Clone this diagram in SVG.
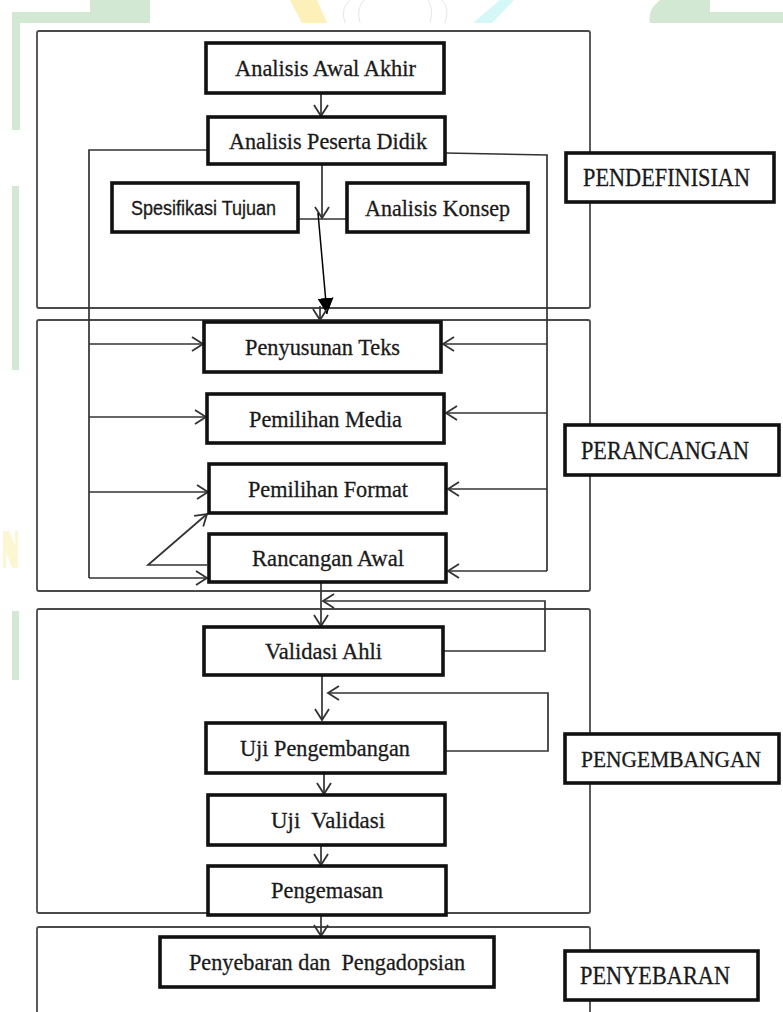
<svg xmlns="http://www.w3.org/2000/svg" width="783" height="1012" viewBox="0 0 783 1012">
<style>
.frame{fill:none;stroke:#4a4a4a;stroke-width:1.8}
.node rect{fill:#fff;stroke:#111;stroke-width:3.6}
.node text{font-family:"Liberation Serif","Times New Roman",serif;font-size:24px;fill:#1a1a1a;stroke:#1a1a1a;stroke-width:0.3;text-anchor:middle}
.node text.lab{font-size:25px}
.node text.sans{font-family:"Liberation Sans",Arial,sans-serif;font-size:19.5px}
.conn{fill:none;stroke:#333;stroke-width:1.7}
.arr{marker-end:url(#open)}
.wm{fill:#d2e8d2}
</style>
<defs>
<marker id="open" markerUnits="userSpaceOnUse" markerWidth="14" markerHeight="16" viewBox="0 0 14 16" refX="12" refY="8" orient="auto">
<path d="M1,1 L12,8 L1,15" fill="none" stroke="#333" stroke-width="1.8"/>
</marker>
<marker id="solid" markerUnits="userSpaceOnUse" markerWidth="18" markerHeight="16" viewBox="0 0 18 16" refX="16" refY="8" orient="auto">
<path d="M0,0 L16,8 L0,16 z" fill="#000"/>
</marker>
</defs>
<rect x="0" y="0" width="783" height="1012" fill="#fff"/>
<g id="watermark">
<path class="wm" d="M12,12 H90 V0 H150 V23 H20 V130 H12 Z"/>
<path class="wm" d="M660,0 Q647,10 650,23 H783 V12 H710 V0 Z"/>
<path d="M290,0 H317 L327,23 H302 Z" fill="#fdf0b8"/>
<path d="M500,0 H514 L492,23 H473 Z" fill="#d4f7f7"/>
<path d="M345,23 Q340,8 350,0 M360,23 Q356,8 364,0 M430,23 Q434,8 428,0 M445,23 Q450,8 442,0" fill="none" stroke="#e6e6e6" stroke-width="1"/>
<rect class="wm" x="12" y="186" width="7" height="184"/>
<path d="M3,531 H9 L15,545 V531 H18 V568 H12 L6,552 V568 H3 Z" fill="#fbf7d2"/>
<rect class="wm" x="12" y="611" width="7" height="69"/>
</g>
<g id="frames">
<rect class="frame" x="37" y="31" width="553" height="277" rx="2"/>
<rect class="frame" x="37" y="320" width="553" height="271" rx="2"/>
<rect class="frame" x="37" y="609" width="553" height="304" rx="2"/>
<rect class="frame" x="37" y="927" width="553" height="100" rx="2"/>
</g>
<g id="connectors">
<path class="conn arr" d="M321,93 V116"/>
<path class="conn arr" d="M322,164 V218"/>
<path class="conn" d="M298,219 H347"/>
<path d="M318,213 L327,314" fill="none" stroke="#000" stroke-width="1.5" marker-end="url(#solid)"/>
<path class="conn arr" d="M320,306 V320"/>
<path class="conn" d="M208,150 H89 V578"/>
<path class="conn arr" d="M89,344 H203"/>
<path class="conn arr" d="M89,417 H206"/>
<path class="conn arr" d="M89,492 H208"/>
<path class="conn arr" d="M89,578 H207"/>
<path class="conn" d="M445,153 L547,155 V571"/>
<path class="conn arr" d="M547,344 H443"/>
<path class="conn arr" d="M547,413 H446"/>
<path class="conn arr" d="M547,489 H448"/>
<path class="conn arr" d="M547,571 H448"/>
<path class="conn arr" d="M207,565 H148 L207,514"/>
<path class="conn arr" d="M321,583 V626"/>
<path class="conn arr" d="M443,651 H545 V601 H323"/>
<path class="conn arr" d="M322,675 V720"/>
<path class="conn arr" d="M445,751 H548 V693 H328"/>
<path class="conn arr" d="M324,773 V794"/>
<path class="conn arr" d="M321,845 V865"/>
<path class="conn arr" d="M321,915 V936"/>
</g>
<g id="n-analisis-awal-akhir" class="node"><rect x="206" y="43" width="238" height="50"/><text x="325.5" y="76" textLength="181" lengthAdjust="spacingAndGlyphs">Analisis Awal Akhir</text></g>
<g id="n-analisis-peserta-didik" class="node"><rect x="208" y="117" width="237" height="47"/><text x="328" y="148.5" textLength="198" lengthAdjust="spacingAndGlyphs">Analisis Peserta Didik</text></g>
<g id="n-spesifikasi-tujuan" class="node"><rect x="112" y="183" width="186" height="49"/><text class="sans" x="203.5" y="214.5" textLength="145" lengthAdjust="spacingAndGlyphs">Spesifikasi Tujuan</text></g>
<g id="n-analisis-konsep" class="node"><rect x="347" y="183" width="181" height="49"/><text x="437.5" y="216" textLength="145" lengthAdjust="spacingAndGlyphs">Analisis Konsep</text></g>
<g id="n-penyusunan-teks" class="node"><rect x="204" y="322" width="237" height="50"/><text x="322.5" y="355" textLength="155" lengthAdjust="spacingAndGlyphs">Penyusunan Teks</text></g>
<g id="n-pemilihan-media" class="node"><rect x="207" y="394" width="237" height="49"/><text x="325.5" y="426.5" textLength="153" lengthAdjust="spacingAndGlyphs">Pemilihan Media</text></g>
<g id="n-pemilihan-format" class="node"><rect x="209" y="464" width="237" height="49"/><text x="328" y="496.5" textLength="160" lengthAdjust="spacingAndGlyphs">Pemilihan Format</text></g>
<g id="n-rancangan-awal" class="node"><rect x="209" y="534" width="237" height="48"/><text x="328" y="566" textLength="152" lengthAdjust="spacingAndGlyphs">Rancangan Awal</text></g>
<g id="n-validasi-ahli" class="node"><rect x="204" y="627" width="239" height="48"/><text x="323.5" y="659" textLength="117" lengthAdjust="spacingAndGlyphs">Validasi Ahli</text></g>
<g id="n-uji-pengembangan" class="node"><rect x="206" y="723" width="239" height="50"/><text x="325" y="756" textLength="170" lengthAdjust="spacingAndGlyphs">Uji Pengembangan</text></g>
<g id="n-uji-validasi" class="node"><rect x="208" y="795" width="237" height="50"/><text x="328" y="828" textLength="114" lengthAdjust="spacingAndGlyphs" xml:space="preserve">Uji  Validasi</text></g>
<g id="n-pengemasan" class="node"><rect x="208" y="866" width="238" height="49"/><text x="327" y="898" textLength="112" lengthAdjust="spacingAndGlyphs">Pengemasan</text></g>
<g id="n-penyebaran" class="node"><rect x="160" y="937" width="334" height="50"/><text x="327" y="970" textLength="276" lengthAdjust="spacingAndGlyphs" xml:space="preserve">Penyebaran dan  Pengadopsian</text></g>
<g id="l-pendefinisian" class="node"><rect x="566" y="153" width="208" height="49"/><text class="lab" x="666.5" y="186" textLength="167" lengthAdjust="spacingAndGlyphs">PENDEFINISIAN</text></g>
<g id="l-perancangan" class="node"><rect x="565" y="425" width="214" height="50"/><text class="lab" x="665" y="458.5" textLength="168" lengthAdjust="spacingAndGlyphs">PERANCANGAN</text></g>
<g id="l-pengembangan" class="node"><rect x="565" y="734" width="214" height="49"/><text x="671" y="767" style="font-size:23px" textLength="180" lengthAdjust="spacingAndGlyphs">PENGEMBANGAN</text></g>
<g id="l-penyebaran" class="node"><rect x="565" y="951" width="193" height="49"/><text class="lab" x="655" y="984" textLength="150" lengthAdjust="spacingAndGlyphs">PENYEBARAN</text></g>
</svg>
